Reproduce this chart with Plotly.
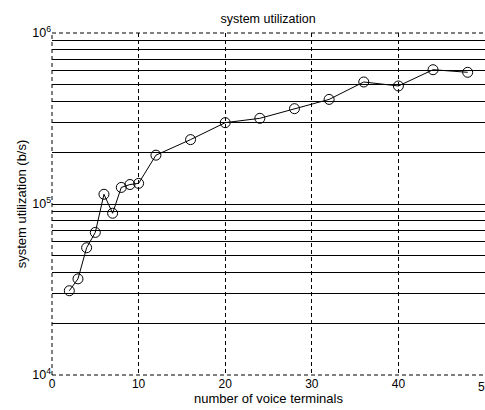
import plotly.graph_objects as go

# number of voice terminals vs. measured system utilization (bits per second)
terminals = [2, 3, 4, 5, 6, 7, 8, 9, 10, 12, 16, 20, 24, 28, 32, 36, 40, 44, 48]
utilization = [31100, 36500, 55500, 68200, 114000, 88300, 125000, 130000, 132000,
               193000, 238000, 299000, 317000, 361000, 409000, 517000, 490000,
               610000, 589000]

x_ticks = [0, 10, 20, 30, 40]
x_edge_tick = 50
y_ticks = [1e4, 1e5, 1e6]
y_tick_text = ["10<sup>4</sup>", "10<sup>5</sup>", "10<sup>6</sup>"]

font = dict(family="Liberation Sans, Arial, sans-serif", size=11, color="black")

fig = go.Figure()
fig.add_trace(go.Scatter(
    x=terminals, y=utilization, mode="lines+markers",
    line=dict(color="black", width=1),
    marker=dict(symbol="circle-open", size=10, color="black", line=dict(width=1)),
    showlegend=False,
))

dash = "4px,3px"
fig.update_layout(
    width=485, height=410,
    margin=dict(l=52, r=0, t=33, b=35),
    plot_bgcolor="white", paper_bgcolor="white",
    font=font,
    title=dict(text="system utilization", x=268 / 485, xanchor="center",
               y=1 - 19 / 410, yanchor="middle", font=dict(size=12.5)),
    xaxis=dict(range=[0, 50], tickvals=x_ticks, showgrid=True,
               gridcolor="black", gridwidth=1, griddash=dash,
               zeroline=False, showline=False, ticks="", ticklen=0,
               tickfont=dict(size=12),
               title=dict(text="number of voice terminals", standoff=2)),
    yaxis=dict(type="log", range=[4, 6], tickvals=y_ticks, ticktext=y_tick_text,
               showgrid=True, gridcolor="black", gridwidth=1, griddash=dash,
               zeroline=False, showline=False, ticks="", tickfont=dict(size=12.5),
               minor=dict(dtick="D1", showgrid=True, gridcolor="black",
                          gridwidth=1, griddash="solid", ticks=""),
               title=dict(text="system utilization (b/s)", standoff=2)),
)

# last x tick label sits on the right edge of the figure
fig.add_annotation(x=x_edge_tick, xref="x", y=0, yref="y domain",
                   text=str(x_edge_tick), showarrow=False,
                   xanchor="center", yanchor="top", yshift=-3,
                   font=dict(size=12))

# dashed frame around the plotting area
for x0, y0, x1, y1 in [(0, 0, 1, 0), (0, 1, 1, 1), (0, 0, 0, 1)]:
    fig.add_shape(type="line", xref="x domain", yref="y domain",
                  x0=x0, y0=y0, x1=x1, y1=y1,
                  line=dict(color="black", width=1, dash=dash), layer="below")

fig.write_html("out.html")
